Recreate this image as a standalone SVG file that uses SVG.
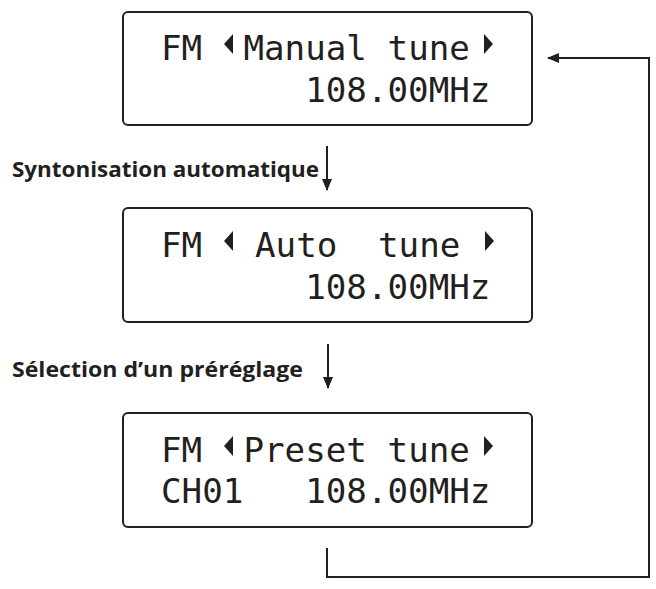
<svg xmlns="http://www.w3.org/2000/svg" width="656" height="589" viewBox="0 0 656 589">
<style>
.box{fill:#fff;stroke:#231f20;stroke-width:2}
.lcd{font-family:"DejaVu Sans Mono",monospace;font-size:34.2px;fill:#231f20}
.lbl{font-family:"Open Sans","Noto Sans",sans-serif;font-weight:700;font-size:21px;fill:#231f20}
.tri{fill:#231f20}
.con{fill:none;stroke:#231f20;stroke-width:2}
</style>
<defs>
<marker id="ah" markerWidth="12" markerHeight="10" refX="11" refY="5" orient="auto" markerUnits="userSpaceOnUse">
<path d="M0,0 L12,5 L0,10 z" fill="#231f20"/>
</marker>
</defs>
<rect width="656" height="589" fill="#fff"/>
<g id="manual">
<rect class="box" x="123" y="12" width="409" height="113" rx="5"/>
<text class="lcd" x="161" y="60">FM</text>
<polygon class="tri" points="224,44 233,34 233,54"/>
<text class="lcd" x="243.4" y="60">Manual</text>
<text class="lcd" x="387.6" y="60">tune</text>
<polygon class="tri" points="493,44 484,34 484,54"/>
<text class="lcd" x="305.2" y="102">108.00MHz</text>
</g>
<g id="auto">
<rect class="box" x="123" y="208" width="409" height="114" rx="5"/>
<text class="lcd" x="161" y="257">FM</text>
<polygon class="tri" points="224,241 233,231 233,251"/>
<text class="lcd" x="255" y="257">Auto</text>
<text class="lcd" x="378" y="257">tune</text>
<polygon class="tri" points="494,241 485,231 485,251"/>
<text class="lcd" x="305.2" y="299">108.00MHz</text>
</g>
<g id="preset">
<rect class="box" x="123" y="413" width="409" height="114" rx="5"/>
<text class="lcd" x="161" y="462">FM</text>
<polygon class="tri" points="224,446 233,436 233,456"/>
<text class="lcd" x="243.4" y="462">Preset</text>
<text class="lcd" x="387.6" y="462">tune</text>
<polygon class="tri" points="493,446 484,436 484,456"/>
<text class="lcd" x="161" y="503">CH01</text>
<text class="lcd" x="305.2" y="503">108.00MHz</text>
</g>
<g id="label-auto">
<text class="lbl" x="12" y="177" textLength="307" lengthAdjust="spacingAndGlyphs">Syntonisation automatique</text>
</g>
<g id="label-preset">
<text class="lbl" x="12" y="377" textLength="291" lengthAdjust="spacingAndGlyphs">Sélection d’un préréglage</text>
</g>
<g id="connectors">
<line class="con" x1="327" y1="146" x2="327" y2="190" marker-end="url(#ah)"/>
<line class="con" x1="328" y1="344" x2="328" y2="388" marker-end="url(#ah)"/>
<polyline class="con" points="327,548 327,577 649,577 649,58 548,58" marker-end="url(#ah)"/>
</g>
</svg>
